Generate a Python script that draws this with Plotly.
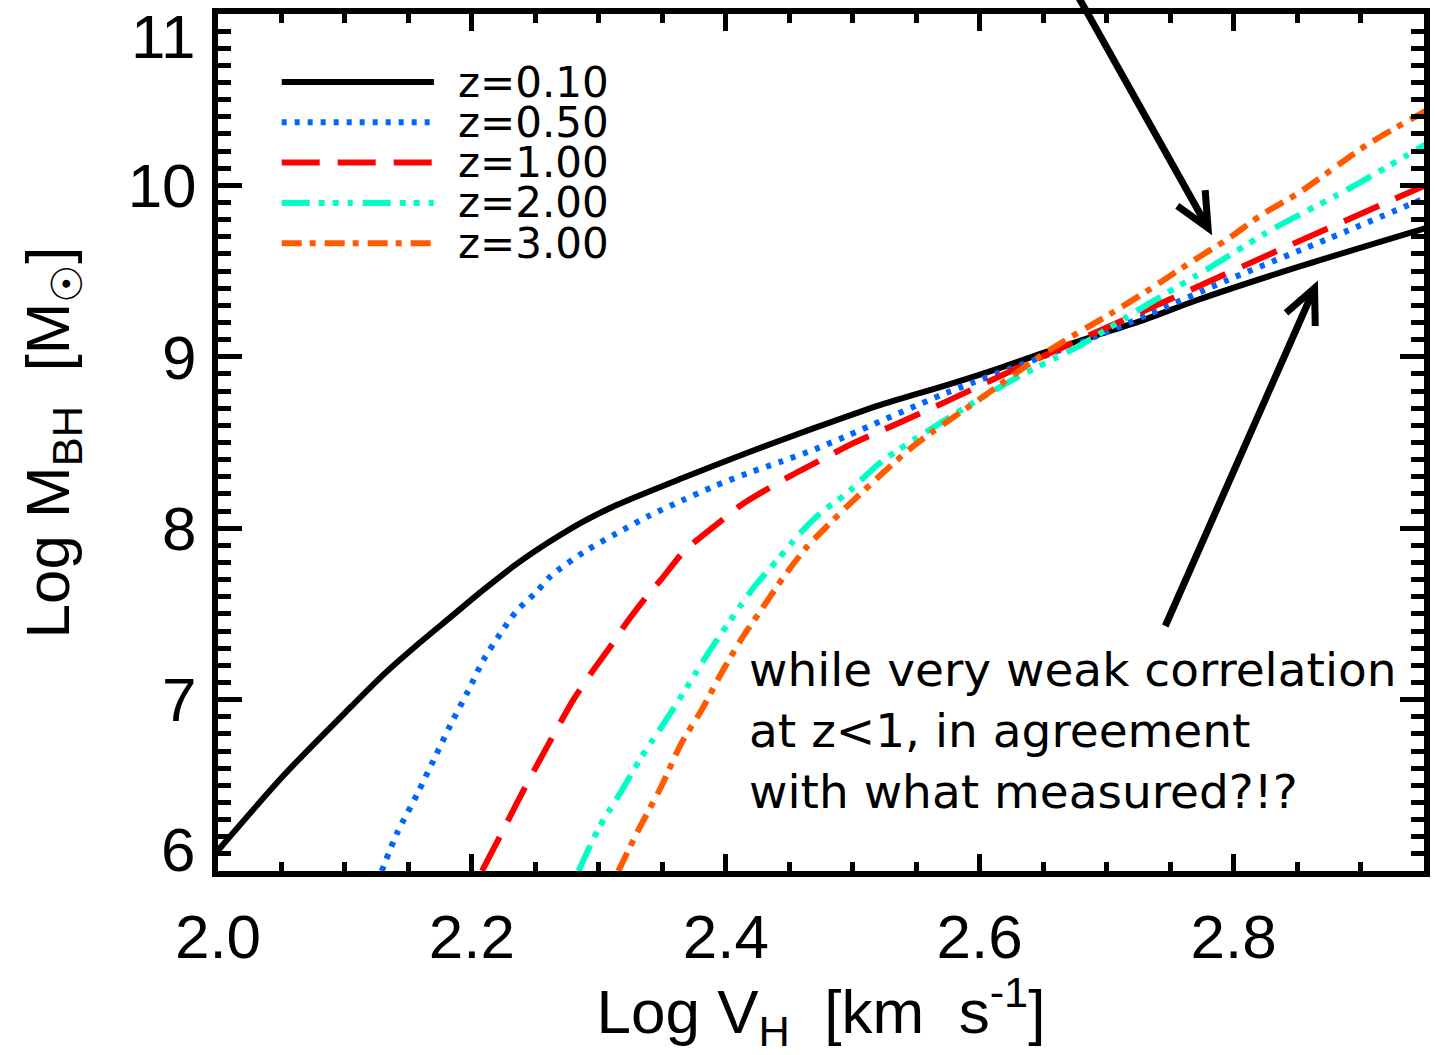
import math
import plotly.graph_objects as go

# ---------------- data ----------------
x_z010 = [2.000, 2.052, 2.105, 2.131, 2.157, 2.183, 2.209, 2.235, 2.262, 2.288, 2.314,
          2.365, 2.417, 2.470, 2.522, 2.574, 2.614, 2.653, 2.692, 2.731, 2.771, 2.849, 2.951]
y_z010 = [6.12, 6.56, 6.96, 7.15, 7.32, 7.48, 7.64, 7.79, 7.925, 8.04, 8.135,
          8.29, 8.44, 8.585, 8.72, 8.835, 8.93, 9.03, 9.125, 9.22, 9.33, 9.52, 9.75]

x_z050 = [2.129, 2.141, 2.157, 2.170, 2.183, 2.197, 2.209, 2.222, 2.235, 2.251, 2.262,
          2.288, 2.314, 2.339, 2.365, 2.391, 2.417, 2.444, 2.470, 2.496, 2.574, 2.653,
          2.692, 2.734, 2.796, 2.875, 2.951]
y_z050 = [6.00, 6.22, 6.45, 6.65, 6.85, 7.05, 7.23, 7.38, 7.515, 7.63, 7.72,
          7.86, 7.97, 8.07, 8.16, 8.245, 8.32, 8.39, 8.46, 8.54, 8.79, 9.01,
          9.12, 9.25, 9.45, 9.69, 9.926]

x_z100 = [2.208, 2.222, 2.235, 2.250, 2.267, 2.280, 2.294, 2.312, 2.320, 2.3385, 2.349,
          2.367, 2.378, 2.401, 2.413, 2.439, 2.451, 2.478, 2.496, 2.535, 2.574, 2.640,
          2.721, 2.841, 2.951]
y_z100 = [6.00, 6.20, 6.39, 6.60, 6.83, 7.00, 7.155, 7.34, 7.43, 7.61, 7.70,
          7.865, 7.935, 8.07, 8.14, 8.255, 8.305, 8.41, 8.48, 8.61, 8.74, 8.97,
          9.24, 9.64, 10.00]

x_z200 = [2.284, 2.300, 2.318, 2.334, 2.352, 2.370, 2.386, 2.404, 2.4226, 2.441, 2.459,
          2.475, 2.496, 2.522, 2.574, 2.627, 2.679, 2.731, 2.778, 2.832, 2.887, 2.951]
y_z200 = [6.00, 6.25, 6.47, 6.67, 6.87, 7.08, 7.27, 7.467, 7.66, 7.818, 7.974,
          8.091, 8.208, 8.384, 8.637, 8.87, 9.067, 9.30, 9.506, 9.75, 9.965, 10.238]

x_z300 = [2.3154, 2.331, 2.349, 2.365, 2.381, 2.3966, 2.412, 2.428, 2.446, 2.4645, 2.480,
          2.496, 2.548, 2.6004, 2.653, 2.705, 2.731, 2.767, 2.796, 2.822, 2.851, 2.9055, 2.951]
y_z300 = [6.00, 6.237, 6.49, 6.745, 6.94, 7.155, 7.35, 7.525, 7.72, 7.896, 8.013,
          8.13, 8.48, 8.755, 9.03, 9.26, 9.38, 9.555, 9.69, 9.828, 9.955, 10.238, 10.433]

series_names = ["z=0.10", "z=0.50", "z=1.00", "z=2.00", "z=3.00"]
x_ticks = [2.0, 2.2, 2.4, 2.6, 2.8]
x_tick_text = ["2.0", "2.2", "2.4", "2.6", "2.8"]
y_ticks = [6, 7, 8, 9, 10, 11]
y_tick_text = ["6", "7", "8", "9", "10", "11"]
note_text = "while very weak correlation<br>at z&lt;1, in agreement<br>with what measured?!?"

# ---------------- styles ----------------
colors = ["#000000", "#0066ff", "#ff0000", "#00ffc4", "#ff5a00"]
dashes = ["solid", "5px,8px", "38px,18px",
          "28px,9px,6px,8px,6px,9px,5px,10px", "20px,8px,6px,9px"]
LW = 6

xs = [x_z010, x_z050, x_z100, x_z200, x_z300]
ys = [y_z010, y_z050, y_z100, y_z200, y_z300]

fig = go.Figure()
for xv, yv, nm, c, d in zip(xs, ys, series_names, colors, dashes):
    fig.add_trace(go.Scatter(x=xv, y=yv, name=nm, mode="lines",
                             line=dict(color=c, width=LW, dash=d,
                                       shape="spline", smoothing=0.8),
                             showlegend=False))

# plot area in pixels
W, H = 1435, 1055
L, R, T, B = 218, 1430, 14, 871
XR = [2.0, 2.95]
YR = [6.0, 11.0]


def px(xp):
    return (xp - L) / (R - L)


def py(yp):
    return (B - yp) / (B - T)


FONT = "Liberation Sans, Arial, sans-serif"
FONT2 = "DejaVu Sans, Verdana, sans-serif"
shapes = []
annotations = []

# manual legend (long sample lines as in the original)
for i, (nm, c, d) in enumerate(zip(series_names, colors, dashes)):
    yy = py(82 + 40.3 * i)
    shapes.append(dict(type="line", xref="paper", yref="paper",
                       x0=px(282), x1=px(435), y0=yy, y1=yy,
                       line=dict(color=c, width=LW, dash=d)))
    annotations.append(dict(xref="paper", yref="paper", x=px(457), y=yy,
                            xanchor="left", yanchor="middle", showarrow=False,
                            text=nm, font=dict(family=FONT2, size=42, color="black")))

# end tick labels of y axis (shifted inward as in original)
annotations.append(dict(xref="paper", yref="paper", x=0, y=1, xanchor="right",
                        yanchor="middle", xshift=-21, yshift=-22, showarrow=False,
                        text=y_tick_text[-1], font=dict(family=FONT, size=62, color="black")))
annotations.append(dict(xref="paper", yref="paper", x=0, y=0, xanchor="right",
                        yanchor="middle", xshift=-21, yshift=22, showarrow=False,
                        text=y_tick_text[0], font=dict(family=FONT, size=62, color="black")))

# text note
annotations.append(dict(xref="paper", yref="paper", x=px(750), y=py(640),
                        xanchor="left", yanchor="top", align="left", showarrow=False,
                        text=note_text,
                        font=dict(family=FONT2, size=47, color="black")))


# arrows with open heads
def arrow(tail, tip, length=38, ang=25):
    dx, dy = tail[0] - tip[0], tail[1] - tip[1]
    n = math.hypot(dx, dy)
    ux, uy = dx / n, dy / n
    pts = []
    for s in (1, -1):
        a = math.radians(ang * s)
        hx = ux * math.cos(a) - uy * math.sin(a)
        hy = ux * math.sin(a) + uy * math.cos(a)
        pts.append((tip[0] + length * hx, tip[1] + length * hy))

    def P(p):
        return f"{px(p[0]):.5f},{py(p[1]):.5f}"
    path = f"M{P(tail)} L{P(tip)} M{P(pts[0])} L{P(tip)} L{P(pts[1])}"
    return dict(type="path", xref="paper", yref="paper", path=path,
                line=dict(color="black", width=7))


shapes.append(arrow((1081, -6), (1213, 228)))
shapes.append(arrow((1170, 626), (1320, 288)))

axis_common = dict(showline=True, linewidth=6, linecolor="black", mirror="allticks",
                   ticks="inside", tickcolor="black", tickwidth=5,
                   showgrid=False, zeroline=False,
                   tickfont=dict(family=FONT, size=62, color="black"))

fig.update_layout(
    width=W, height=H,
    margin=dict(l=L, r=W - R, t=T, b=H - B),
    paper_bgcolor="white", plot_bgcolor="white",
    showlegend=False,
    shapes=shapes, annotations=annotations,
    xaxis=dict(range=XR, tickvals=x_ticks, ticktext=x_tick_text, ticklen=17,
               minor=dict(dtick=0.05, tick0=2.0, ticklen=9, tickwidth=5,
                          tickcolor="black", ticks="inside"),
               title=dict(text="Log V<sub>H</sub>  [km  s<sup>-1</sup>]",
                          font=dict(family=FONT, size=62, color="black"), standoff=18),
               ticklabelstandoff=7,
               **axis_common),
    yaxis=dict(range=YR, tickvals=y_ticks, ticktext=[""] + y_tick_text[1:-1] + [""],
               ticklen=24,
               minor=dict(dtick=0.1, tick0=6, ticklen=13, tickwidth=5,
                          tickcolor="black", ticks="inside"),
               title=dict(text="Log M<sub>BH</sub>  [M<sub>☉</sub>]",
                          font=dict(family=FONT, size=62, color="black"), standoff=40),
               ticklabelstandoff=3,
               **axis_common),
)

fig.write_html("out.html")
